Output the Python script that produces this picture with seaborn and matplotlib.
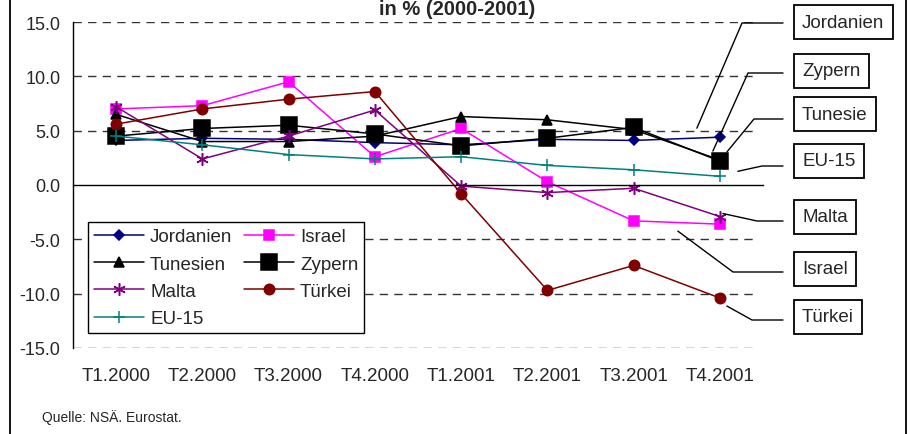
import numpy as np
import matplotlib.pyplot as plt
import seaborn as sns
from matplotlib.lines import Line2D
from matplotlib.patches import Rectangle
from matplotlib.ticker import FormatStrFormatter

# Werte (in %)
quarters = ['T1.2000', 'T2.2000', 'T3.2000', 'T4.2000',
            'T1.2001', 'T2.2001', 'T3.2001', 'T4.2001']

jordanien = [4.1, 4.3, 4.2, 3.9, 3.7, 4.2, 4.1, 4.4]
israel = [7.0, 7.3, 9.5, 2.6, 5.2, 0.3, -3.3, -3.6]
tunesien = [6.5, 4.0, 4.0, 4.5, 6.3, 6.0, 5.1, 2.3]
zypern = [4.5, 5.2, 5.5, 4.7, 3.6, 4.3, 5.3, 2.2]
malta = [7.2, 2.4, 4.5, 6.9, -0.1, -0.7, -0.3, -2.9]
tuerkei = [5.6, 7.0, 7.9, 8.6, -0.8, -9.7, -7.4, -10.4]
eu15 = [4.5, 3.7, 2.8, 2.4, 2.6, 1.8, 1.4, 0.8]

sns.set_style('white')
plt.rcParams['font.family'] = ['Liberation Sans', 'DejaVu Sans']
plt.rcParams['axes.unicode_minus'] = False

W, H = 910, 435
fig = plt.figure(figsize=(W / 100, H / 100), dpi=100)
ax = fig.add_axes([73 / W, 1 - 349 / H, 690 / W, 326 / H])

x = np.arange(len(quarters))

# name, werte, farbe, marker, groesse
series = [
    ('Jordanien', jordanien, '#000080', 'D', 5.5),
    ('Israel', israel, '#FF00FF', 's', 7),
    ('Tunesien', tunesien, '#000000', '^', 7.5),
    ('Zypern', zypern, '#000000', 's', 11),
    ('Malta', malta, '#800080', (6, 2, 0), 9),
    ('Türkei', tuerkei, '#800000', 'o', 7.5),
    ('EU-15', eu15, '#008080', '+', 9),
]

handles = {}
for name, vals, col, mk, ms in series:
    sns.lineplot(x=x, y=vals, ax=ax, color=col, marker=mk, markersize=ms,
                 markeredgecolor=col, markerfacecolor=col, markeredgewidth=1.1,
                 linewidth=1.1, legend=False)
    handles[name] = ax.lines[-1]

ax.set_xlim(-0.5, 7.5)
ax.set_ylim(-15, 15)
ax.set_yticks(range(-15, 16, 5))
ax.yaxis.set_major_formatter(FormatStrFormatter('%.1f'))
ax.tick_params(axis='y', length=4, direction='out', color='black', labelsize=13, pad=5)

# gestrichelte Gitterlinien, Nulllinie durchgezogen
for yv in ax.get_yticks():
    if yv != 0:
        ax.axhline(yv, xmax=0.991, color='#333333', lw=1, ls=(0, (6, 4.5)), zorder=0)

for s in ['top', 'right']:
    ax.spines[s].set_visible(False)
ax.spines['left'].set_color('black')
ax.spines['left'].set_linewidth(1)
ax.spines['bottom'].set_position(('data', 0))
ax.spines['bottom'].set_color('black')
ax.spines['bottom'].set_linewidth(1)
ax.set_xticks([])
ax.set_xticks(np.arange(-0.5, 8, 1), minor=True)
ax.tick_params(axis='x', which='minor', length=4.5, direction='out', color='black', labelbottom=False)
ax.set_xlabel('')
ax.set_ylabel('')

sec = ax.secondary_xaxis(0)
sec.set_xticks(x, quarters)
sec.tick_params(length=0, pad=14, labelsize=13.5)
sec.spines['bottom'].set_visible(False)

order = ['Jordanien', 'Tunesien', 'Malta', 'EU-15', 'Israel', 'Zypern', 'Türkei']
leg = ax.legend([handles[n] for n in order], order, ncol=2, loc='lower left',
                bbox_to_anchor=(0.022, 0.046), fontsize=13.5, frameon=True,
                fancybox=False, edgecolor='black', framealpha=1,
                handlelength=2.7, handletextpad=0.3, columnspacing=0.6,
                labelspacing=0.55, borderpad=0.3, borderaxespad=0)
leg.get_frame().set_linewidth(1)

# Titel (oben am Rand)
fig.text(457 / W, 1 - 15 / H, 'in % (2000-2001)', ha='center', va='baseline',
         fontsize=14.5, fontweight='bold')

fig.text(42 / W, 1 - 418 / H, 'Quelle: NSÄ. Eurostat.', ha='left', va='center', fontsize=10)

# Beschriftungen rechts mit Fuehrungslinien
labels = [('Jordanien', jordanien), ('Zypern', zypern), ('Tunesie', tunesien),
          ('EU-15', eu15), ('Malta', malta), ('Israel', israel), ('Türkei', tuerkei)]
box_y = [23, 72, 115, 162, 218, 270, 318]
line_y = [24, 74, 120, 167, 222, 273, 321]
knee_x = [742, 748, 754, 762, 757, 733, 752]
end_off = [(-23, -9), (-7, -10), (7, -8), (18, -5), (3, -3), (-42, 7), (7, 8)]

inv = fig.transFigure.inverted()
for (name, vals), by, ly, kx, (dx, dy) in zip(labels, box_y, line_y, knee_x, end_off):
    px, py = ax.transData.transform((x[-1], vals[-1]))
    ex, ey = px + dx, py - dy
    pts = np.array([[783, H - ly], [kx, H - ly], [ex, ey]])
    fpts = inv.transform(pts)
    fig.add_artist(Line2D(fpts[:, 0], fpts[:, 1], transform=fig.transFigure,
                          color='black', lw=1))
    fig.text(802 / W, 1 - by / H, name, ha='left', va='center', fontsize=13.5,
             bbox=dict(boxstyle='square,pad=0.45', fc='white', ec='black', lw=1.3))

fig.add_artist(Rectangle((10 / W, -0.02), (906 - 10) / W, 1.04, transform=fig.transFigure,
                         fill=False, ec='black', lw=1.3))

fig.savefig('out.png', dpi=100)
